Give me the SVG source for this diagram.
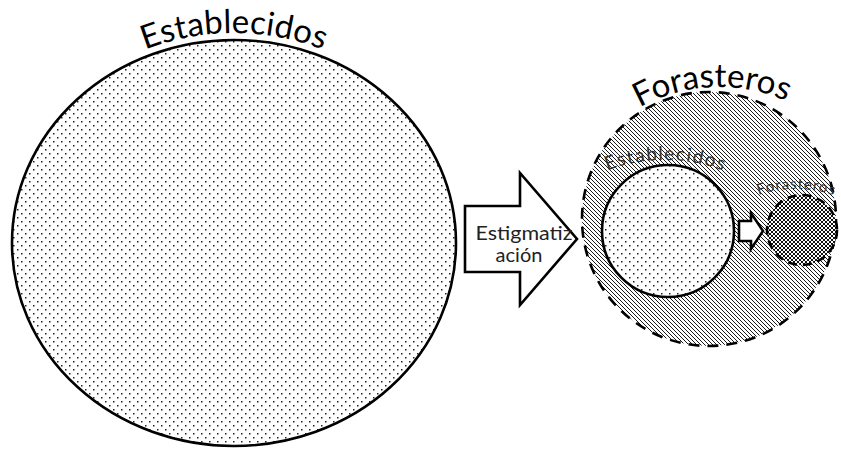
<svg xmlns="http://www.w3.org/2000/svg" width="841" height="450" viewBox="0 0 841 450">
<style>
.lbl{font-family:Lato,"Open Sans","Liberation Sans",sans-serif;fill:#000}
.edge{stroke:#000;stroke-width:2.6}
.dash{stroke:#000;stroke-width:2.6;stroke-dasharray:11 8}
</style>
<defs>
<pattern id="dots" width="8" height="8" patternUnits="userSpaceOnUse">
<rect width="8" height="8" fill="#fff"/>
<rect x="1" y="1" width="1.5" height="1.5" fill="#222"/>
<rect x="5" y="5" width="1.5" height="1.5" fill="#222"/>
</pattern>
<pattern id="hatch" width="4" height="4" patternUnits="userSpaceOnUse">
<rect width="4" height="4" fill="#fff"/>
<path d="M-1,-1 L5,5 M-1,3 L1,5 M3,-1 L5,1" stroke="#000" stroke-width="0.9"/>
</pattern>
<pattern id="cross" width="4" height="4" patternUnits="userSpaceOnUse">
<rect width="4" height="4" fill="#fff"/>
<path d="M-1,-1 L5,5 M-1,3 L1,5 M3,-1 L5,1 M-1,5 L5,-1 M-1,1 L1,-1 M3,5 L5,3" stroke="#111" stroke-width="1"/>
</pattern>
<path id="arcBig" d="M6,243 A228,210 0 0 1 462,243"/>
<path id="arcFor" d="M568,222 A150,135 0 0 1 868,222"/>
<path id="arcInE" d="M555,232 A110,72 0 0 1 775,232"/>
<path id="arcInF" d="M726,229 A70,40 0 0 1 866,229"/>
</defs>

<g id="node-establecidos">
<ellipse cx="234" cy="243" rx="222" ry="203" fill="url(#dots)" class="edge"/>
<text class="lbl" font-size="33"><textPath href="#arcBig" startOffset="50%" text-anchor="middle" textLength="182" lengthAdjust="spacing">Establecidos</textPath></text>
</g>

<g id="node-forasteros">
<circle cx="709" cy="219" r="127" fill="url(#hatch)" class="dash"/>
<g transform="rotate(-2.5 718 222)">
<text class="lbl" font-size="33"><textPath href="#arcFor" startOffset="50%" text-anchor="middle" textLength="152" lengthAdjust="spacing">Forasteros</textPath></text>
</g>
</g>

<g id="node-inner-establecidos">
<circle cx="668" cy="231" r="66" fill="url(#dots)" class="edge"/>
<text class="lbl" font-size="19" style="fill:#333"><textPath href="#arcInE" startOffset="50%" text-anchor="middle" textLength="118" lengthAdjust="spacing">Establecidos</textPath></text>
</g>

<g id="node-inner-forasteros">
<circle cx="802" cy="230" r="35" fill="url(#cross)" class="dash" style="stroke-dasharray:9 6"/>
<text class="lbl" font-size="15" style="fill:#333"><textPath href="#arcInF" startOffset="50%" text-anchor="middle" textLength="76" lengthAdjust="spacing">Forasteros</textPath></text>
</g>

<g id="connectors">
<g id="arrow-estigmatizacion">
<polygon points="465,206 520,206 520,173 577,239 520,305 520,272 465,272" fill="#fff" class="edge"/>
<text class="lbl" font-size="20" x="524" y="240" text-anchor="middle" textLength="97" lengthAdjust="spacingAndGlyphs" style="fill:#222">Estigmatiz</text>
<text class="lbl" font-size="20" x="519" y="262" text-anchor="middle" style="fill:#222">ación</text>
</g>
<polygon id="arrow-small" points="739,221 751,221 751,213 763,231 751,249 751,241 739,241" fill="#fff" class="edge"/>
</g>
</svg>
